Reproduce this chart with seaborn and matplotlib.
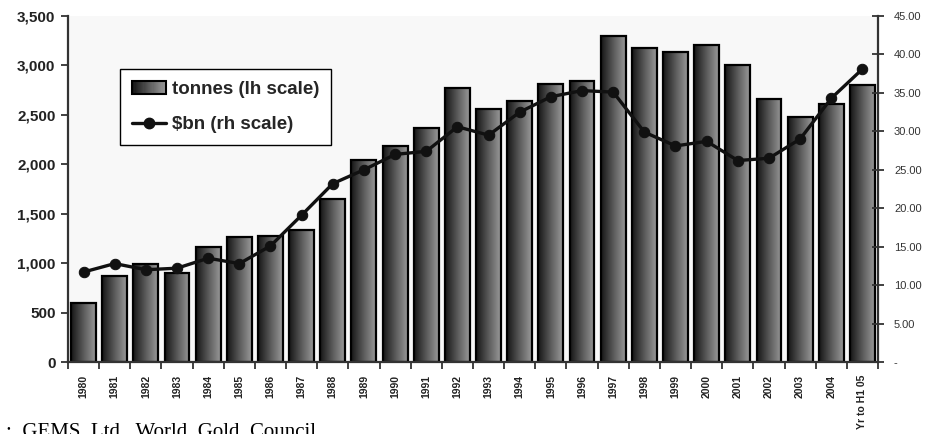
import numpy as np
import pandas as pd
import matplotlib
matplotlib.use("Agg")
import matplotlib.pyplot as plt
import seaborn as sns
from matplotlib.colors import LinearSegmentedColormap
from matplotlib.patches import Rectangle
from matplotlib.lines import Line2D
from matplotlib.legend_handler import HandlerBase
from matplotlib.ticker import FuncFormatter, FixedLocator

# Annual gold demand: tonnes and value in US$ billions
periods = ["1980", "1981", "1982", "1983", "1984", "1985", "1986", "1987", "1988",
           "1989", "1990", "1991", "1992", "1993", "1994", "1995", "1996", "1997",
           "1998", "1999", "2000", "2001", "2002", "2003", "2004", "Yr to H1 05"]
tonnes = [600, 875, 995, 900, 1160, 1265, 1270, 1332, 1646,
          2045, 2190, 2365, 2770, 2560, 2640, 2810, 2840, 3298,
          3175, 3140, 3203, 3005, 2665, 2478, 2608, 2805]
value_bn = [11.7, 12.8, 12.0, 12.2, 13.5, 12.8, 15.1, 19.1, 23.2,
            25.0, 27.0, 27.4, 30.6, 29.5, 32.5, 34.5, 35.3, 35.1,
            29.9, 28.1, 28.7, 26.2, 26.5, 29.0, 34.3, 38.1]

df = pd.DataFrame({"period": periods, "tonnes": tonnes, "value": value_bn})
n_cat = len(df)

sns.set_theme(style="white")
plt.rcParams["font.family"] = ["Liberation Sans", "DejaVu Sans"]

fig = plt.figure(figsize=(9.27, 4.34), dpi=100)
ax = fig.add_axes([68 / 927, 1 - 362 / 434, (878 - 68) / 927, (362 - 16) / 434])
ax.set_facecolor("#f8f8f8")

bar_cmap = LinearSegmentedColormap.from_list("steel", ["#151515", "#5a5a5a", "#9a9a9a"])

sns.barplot(data=df, x="period", y="tonnes", ax=ax, width=0.8,
            color="#555555", edgecolor="black", linewidth=1.6, saturation=1)

# horizontal gradient inside every bar
grad = np.linspace(0, 1, 256).reshape(1, -1)
for patch in list(ax.patches):
    x0, y0 = patch.get_x(), patch.get_y()
    w, h = patch.get_width(), patch.get_height()
    im = ax.imshow(grad, extent=[x0, x0 + w, y0, y0 + h], aspect="auto",
                   cmap=bar_cmap, origin="lower", zorder=patch.get_zorder() - 0.01,
                   interpolation="bilinear")
    im.set_clip_path(patch)
    patch.set_facecolor("none")
ax.set_ylim(0, 3500)
ax.set_xlim(-0.5, n_cat - 0.5)

# left axis
ax.set_yticks(np.arange(0, 3501, 500))
ax.yaxis.set_major_formatter(FuncFormatter(lambda v, p: f"{int(v):,}"))
ax.tick_params(axis="y", direction="out", length=5, width=1.3, color="#333333",
               labelsize=11, pad=4, left=True)
for lab in ax.get_yticklabels():
    lab.set_fontweight("bold")
    lab.set_color("#222222")

# category ticks sit on the bar boundaries
ax.set_xticks(np.arange(n_cat))
ax.set_xticklabels(df["period"], rotation=90, fontsize=7.5, fontweight="bold",
                   color="#222222")
ax.xaxis.set_minor_locator(FixedLocator(np.arange(-0.5, n_cat, 1)))
ax.tick_params(axis="x", which="major", length=0, pad=9)
ax.tick_params(axis="x", which="minor", direction="out", length=5, width=1.3,
               color="#333333", bottom=True)
ax.set_xlabel("")
ax.set_ylabel("")

for side in ["left", "bottom"]:
    ax.spines[side].set_visible(True)
    ax.spines[side].set_color("#333333")
    ax.spines[side].set_linewidth(1.6)
ax.spines["top"].set_visible(False)
ax.spines["right"].set_visible(False)

# right axis: value in US$ bn
ax2 = ax.twinx()
sns.lineplot(x=np.arange(n_cat), y=df["value"].to_numpy(), ax=ax2, color="#111111",
             linewidth=2.4, marker="o", markersize=7.5, markeredgecolor="#111111",
             markerfacecolor="#111111", legend=False)
ax2.set_ylim(0, 45)
ax2.set_xlim(-0.5, n_cat - 0.5)
ax2.set_yticks(np.arange(0, 46, 5))
ax2.yaxis.set_major_formatter(FuncFormatter(lambda v, p: "-" if v == 0 else f"{v:.2f}"))
ax2.tick_params(axis="y", direction="inout", length=9, width=1.3, color="#333333",
                labelsize=8, labelcolor="#333333", pad=7, right=True)
ax2.set_ylabel("")
for side in ["left", "top", "bottom"]:
    ax2.spines[side].set_visible(False)
ax2.spines["right"].set_visible(True)
ax2.spines["right"].set_color("#333333")
ax2.spines["right"].set_linewidth(1.6)


class GradientBoxHandler(HandlerBase):
    def create_artists(self, legend, orig_handle, xdescent, ydescent, width, height,
                       fontsize, trans):
        n = 30
        parts = []
        for i in range(n):
            parts.append(Rectangle((-xdescent + width * i / n, -ydescent),
                                   width / n * 1.15, height,
                                   facecolor=bar_cmap(i / (n - 1)), edgecolor="none",
                                   linewidth=0, transform=trans))
        parts.append(Rectangle((-xdescent, -ydescent), width, height,
                               facecolor="none", edgecolor="black", linewidth=1.5,
                               transform=trans))
        return parts


bar_handle = Rectangle((0, 0), 1, 1)
line_handle = Line2D([], [], color="#111111", linewidth=2.4, marker="o",
                     markersize=7.5)
leg = ax2.legend([bar_handle, line_handle], ["tonnes (lh scale)", "$bn (rh scale)"],
                 handler_map={Rectangle: GradientBoxHandler()},
                 loc="upper left", bbox_to_anchor=(120 / 927, 1 - 69 / 434),
                 bbox_transform=fig.transFigure, borderaxespad=0,
                 prop={"weight": "bold", "size": 13.5}, frameon=True, fancybox=False,
                 edgecolor="black", facecolor="white", framealpha=1,
                 handlelength=1.8, handleheight=0.65, handletextpad=0.3,
                 borderpad=0.65, labelspacing=0.95, numpoints=1)
leg.get_frame().set_linewidth(1.0)

# source line along the bottom edge
fig.text(6 / 927, -0.0065, ":  GEMS  Ltd,  World  Gold  Council",
         family=["Liberation Serif", "DejaVu Serif"], fontsize=15, color="black",
         ha="left", va="baseline")

fig.savefig("out.png", dpi=100, facecolor="white")
